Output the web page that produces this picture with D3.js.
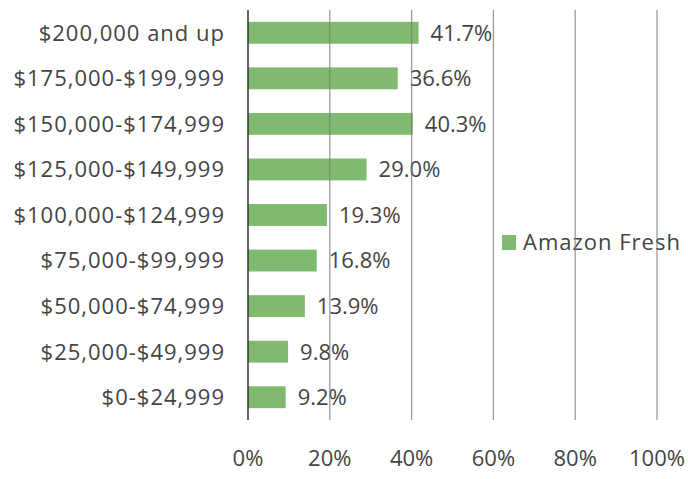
<!DOCTYPE html>
<html>
<head>
<meta charset="utf-8">
<script src="https://cdn.jsdelivr.net/npm/d3@7"></script>
<style>
  body { margin: 0; background: #fff; }
  text { font-family: "Open Sans", sans-serif; fill: #444; font-size: 22px; letter-spacing: 1px; }
  text.val, text.tick { letter-spacing: 0; }
</style>
</head>
<body>
<div id="chart"></div>
<script>
const categories = ["$200,000 and up", "$175,000-$199,999", "$150,000-$174,999", "$125,000-$149,999",
    "$100,000-$124,999", "$75,000-$99,999", "$50,000-$74,999", "$25,000-$49,999", "$0-$24,999"];
const values = [41.7, 36.6, 40.3, 29.0, 19.3, 16.8, 13.9, 9.8, 9.2];
const ticks = [0, 20, 40, 60, 80, 100];
const seriesName = "Amazon Fresh";

const width = 688, height = 479;
const margin = {top: 10, right: 31, bottom: 59, left: 248};

const svg = d3.select("#chart")
    .append("svg")
    .attr("width", width)
    .attr("height", height);

const x = d3.scaleLinear().domain([0, 100]).range([margin.left, width - margin.right]);
const y = d3.scaleBand().domain(categories).range([margin.top, height - margin.bottom]).paddingInner(0.52).paddingOuter(0.26);

// bars
svg.selectAll("rect.bar")
    .data(values)
    .join("rect")
    .attr("class", "bar")
    .attr("x", x(0))
    .attr("y", (d, i) => y(categories[i]))
    .attr("width", d => x(d) - x(0))
    .attr("height", y.bandwidth())
    .attr("fill", "#80ba70");

// value labels
svg.selectAll("text.val")
    .data(values)
    .join("text")
    .attr("class", "val")
    .attr("x", d => x(d) + 12)
    .attr("y", (d, i) => y(categories[i]) + y.bandwidth() / 2)
    .attr("dy", "0.36em")
    .text(d => d.toFixed(1) + "%");

// category labels
svg.selectAll("text.cat")
    .data(categories)
    .join("text")
    .attr("class", "cat")
    .attr("x", 225)
    .attr("y", d => y(d) + y.bandwidth() / 2)
    .attr("dy", "0.36em")
    .attr("text-anchor", "end")
    .text(d => d);

// tick labels
svg.selectAll("text.tick")
    .data(ticks)
    .join("text")
    .attr("class", "tick")
    .attr("x", d => x(d))
    .attr("y", 458)
    .attr("dy", "0.36em")
    .attr("text-anchor", "middle")
    .text(d => d + "%");

// legend
const legend = svg.append("g").attr("transform", "translate(502,235)");
legend.append("rect").attr("width", 14).attr("height", 15).attr("fill", "#80ba70");
legend.append("text").attr("x", 21).attr("y", 7.5).attr("dy", "0.36em")
    .text(seriesName);

// gridlines drawn on top
svg.selectAll("line.grid")
    .data(ticks.slice(1))
    .join("line")
    .attr("class", "grid")
    .attr("x1", d => x(d)).attr("x2", d => x(d))
    .attr("y1", margin.top).attr("y2", height - margin.bottom)
    .attr("stroke", "#7a7a7a")
    .attr("stroke-opacity", 0.75)
    .attr("stroke-width", 1.3);

svg.append("line")
    .attr("x1", x(0)).attr("x2", x(0))
    .attr("y1", margin.top).attr("y2", height - margin.bottom)
    .attr("stroke", "#333")
    .attr("stroke-width", 1.5);
</script>
</body>
</html>
